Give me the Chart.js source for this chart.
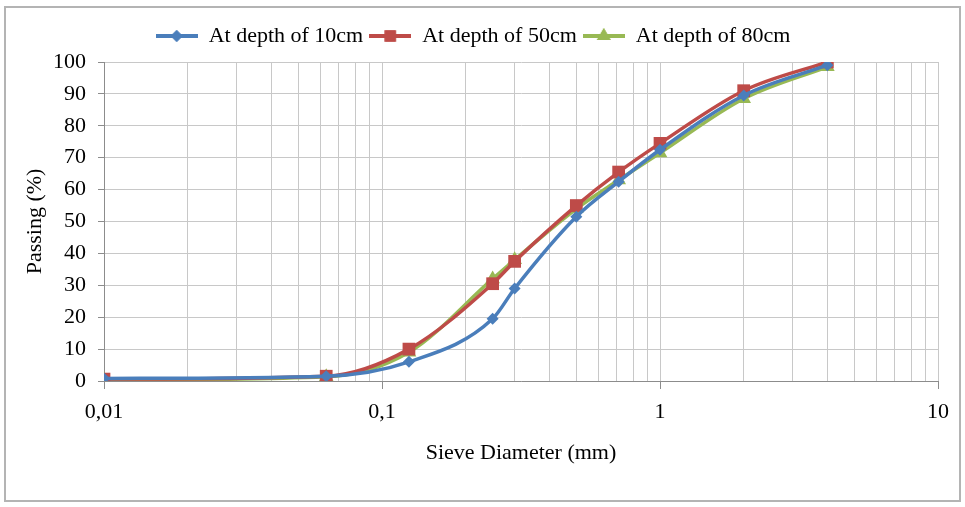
<!DOCTYPE html>
<html>
<head>
<meta charset="utf-8">
<script src="https://cdn.jsdelivr.net/npm/chart.js@4"></script>
<style>
  body { margin: 0; background: #fff; }
  #frame { position: absolute; left: 4px; top: 6px; width: 953px; height: 492px; border: 2px solid #b4b4b4; }
  canvas { display: block; }
</style>
</head>
<body>
<div id="frame"><canvas id="myChart" width="953" height="492"></canvas></div>
<script>
// Siebdurchmesser (mm) und Durchgang (%) je Tiefe
const sieveSizes = [0.01, 0.063, 0.125, 0.25, 0.3, 0.5, 0.71, 1, 2, 4];
const depth10 = [0.8, 1.5, 6, 19.5, 29, 51.5, 62.5, 72.5, 89.5, 99];
const depth50 = [0.6, 1.5, 10, 30.5, 37.5, 55, 65.5, 74.5, 91, 100];
const depth80 = [0.3, 1.3, 9, 32, 38, 54, 63, 71.5, 88.5, 98.5];
const seriesNames = ["At depth of 10cm", "At depth of 50cm", "At depth of 80cm"];
const xTickLabels = { 0.01: "0,01", 0.1: "0,1", 1: "1", 10: "10" };

const colors = ["#4a7ebb", "#be4b48", "#98b954"];
const styles = ["rectRot", "rect", "triangle"];
const radii = [6, 9, 8.5];

const fontFam = "'Liberation Serif', 'Times New Roman', serif";
const fontSize = 22;

function toPoints(values) {
  return sieveSizes.map((s, i) => ({ x: s, y: values[i] }));
}

// Kleine Bilder für die Legende: Linie mit Marker
function legendIcon(color, style) {
  let c = document.createElement("canvas");
  c.width = 42; c.height = 18;
  let g = c.getContext("2d");
  g.strokeStyle = color; g.fillStyle = color; g.lineWidth = 4;
  g.beginPath(); g.moveTo(0, 9); g.lineTo(42, 9); g.stroke();
  Chart.helpers.drawPoint(g, { pointStyle: style, radius: style == "rectRot" ? 6 : 8, rotation: 0, borderWidth: 0 }, 21, 9);
  g.fill();
  return c;
}

// Etwas Abstand unter der Legende
const legendGap = {
  id: "legendGap",
  beforeInit(chart) {
    const fit = chart.legend.fit;
    chart.legend.fit = function () {
      fit.bind(chart.legend)();
      this.height += 5;
    };
  },
};

const allData = [depth10, depth50, depth80];
const datasets = allData.map((vals, i) => ({
  label: seriesNames[i],
  data: toPoints(vals),
  borderColor: colors[i],
  backgroundColor: colors[i],
  borderWidth: 3.5,
  pointStyle: styles[i],
  pointRadius: radii[i],
  pointBorderWidth: 0,
  cubicInterpolationMode: "monotone",
}));

const icons = colors.map((c, i) => legendIcon(c, styles[i]));

let ctx = document.getElementById("myChart").getContext("2d");
new Chart(ctx, {
  type: "line",
  data: { datasets: datasets },
  plugins: [legendGap],
  options: {
    responsive: false,
    animation: false,
    layout: { padding: { left: 0, right: 19, top: 11, bottom: 33 } },
    plugins: {
      tooltip: { enabled: false },
      legend: {
        position: "top",
        labels: {
          color: "#000",
          font: { family: fontFam, size: fontSize },
          usePointStyle: true,
          pointStyleWidth: 42,
          boxHeight: 18,
          padding: 6,
          generateLabels: function (chart) {
            let items = Chart.defaults.plugins.legend.labels.generateLabels(chart);
            items.forEach((it, i) => { it.pointStyle = icons[i]; });
            return items;
          },
        },
      },
    },
    scales: {
      x: {
        type: "logarithmic",
        min: 0.01,
        max: 10,
        afterFit: function (scale) { scale.height = 86; },
        afterBuildTicks: function (scale) {
          let t = [];
          for (let d = -2; d <= 0; d++) {
            for (let m = 1; m <= 9; m++) t.push({ value: +(m * Math.pow(10, d)).toPrecision(3) });
          }
          t.push({ value: 10 });
          scale.ticks = t;
        },
        ticks: {
          autoSkip: false,
          maxRotation: 0,
          color: "#000",
          font: { family: fontFam, size: fontSize },
          padding: 10,
          callback: function (v) { return xTickLabels[v] || ""; },
        },
        grid: {
          color: "#c8c8c8",
          tickLength: 8,
          tickColor: function (c) { return c.tick && xTickLabels[c.tick.value] ? "#8c8c8c" : "rgba(0,0,0,0)"; },
        },
        border: { color: "#8c8c8c" },
        title: {
          display: true,
          text: "Sieve Diameter (mm)",
          color: "#000",
          font: { family: fontFam, size: fontSize },
          padding: { top: 4, bottom: 1 },
        },
      },
      y: {
        min: 0,
        max: 100,
        afterFit: function (scale) { scale.width = 98; },
        ticks: {
          stepSize: 10,
          color: "#000",
          font: { family: fontFam, size: fontSize },
          padding: 12,
        },
        grid: { color: "#c8c8c8", tickLength: 6, tickColor: "#8c8c8c" },
        border: { color: "#8c8c8c" },
        title: {
          display: true,
          text: "Passing (%)",
          color: "#000",
          font: { family: fontFam, size: fontSize },
          padding: { top: 16, bottom: 4 },
        },
      },
    },
  },
});
</script>
</body>
</html>
